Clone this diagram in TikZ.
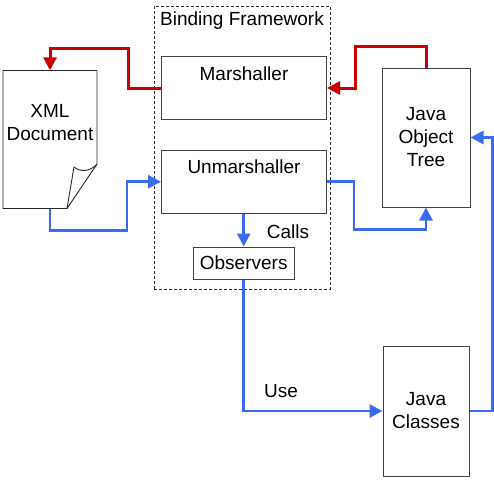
\documentclass[tikz,border=0pt]{standalone}
\usepackage{fontspec}
\setmainfont{Liberation Sans}
\usetikzlibrary{arrows.meta}
\definecolor{flowred}{RGB}{204,0,0}
\definecolor{flowblue}{RGB}{59,108,240}
\begin{document}
\begin{tikzpicture}[
x=1pt,
y=-1pt,
>={Triangle[length=13pt,width=13pt]},
font=\fontsize{19}{23}\selectfont,
box/.style={
rectangle,
draw=black!75,
line width=1pt,
inner sep=0pt,
align=center
},
frame/.style={
rectangle,
draw=black!85,
dash pattern=on 3pt off 2pt,
line width=0.8pt,
inner sep=0pt
},
tag/.style={
inner sep=0pt,
align=center
},
docline/.style={
draw=black!85,
line width=0.9pt,
line join=round
},
redarrow/.style={
->,
line width=3pt,
draw=flowred
},
bluearrow/.style={
->,
line width=2.8pt,
draw=flowblue
}
]

\useasboundingbox (0,0) rectangle (494,482);

\node[frame, minimum width=176, minimum height=283] (bind) at (242,147.5) {};

\node[tag, anchor=north] (bindtitle) at (242,12) {Binding Framework};

\node[box, minimum width=165, minimum height=62.5,
label={[tag, anchor=north, yshift=-10pt]north:Marshaller}] (marsh) at (244,88) {};

\node[box, minimum width=165, minimum height=63,
label={[tag, anchor=north, yshift=-10pt]north:Unmarshaller}] (unmarsh) at (244,181.7) {};

\node[box, minimum width=101, minimum height=32] (obs) at (243.7,263) {Observers};

% xml document with folded corner
\node[tag, minimum width=94, minimum height=138] (xml) at (50,139.5) {};
\draw[docline] (3,208.5) -- (3,70.5) -- (97,70.5) -- (97,164) -- (67,208.5) -- cycle;
\draw[docline] (67,208.5) -- (74,167) .. controls (80,172) and (90,172) .. (97,164);
\node[tag] (xmltext) at (50,123) {XML\\Document};

\node[box, minimum width=88, minimum height=139] (tree) at (426,137.5) {Java\\Object\\Tree};

\node[box, minimum width=86, minimum height=130] (classes) at (426,411) {Java\\Classes};

\node[tag] (calls) at (288,232) {Calls};

\node[tag] (use) at (281,391) {Use};

\draw[redarrow] (tree.north) -- ++(0,-21) -| ([xshift=28pt]marsh.east) -- (marsh.east);
\draw[redarrow] (marsh.west) -- ++(-33,0) |- ([yshift=21.5pt]xml.north) -- (xml.north);

\draw[bluearrow] (xml.south) -- ++(0,22) -| ([xshift=-34pt]unmarsh.west) -- (unmarsh.west);
\draw[bluearrow] (unmarsh.east) -- ++(27,0) |- ([yshift=-22pt]tree.south) -- (tree.south);
\draw[bluearrow] (obs.north |- unmarsh.south) -- (obs.north);
\draw[bluearrow] (obs.south) |- (classes.west);
\draw[bluearrow] (classes.east) -- ++(23,0) |- (tree.east);

\end{tikzpicture}
\end{document}
